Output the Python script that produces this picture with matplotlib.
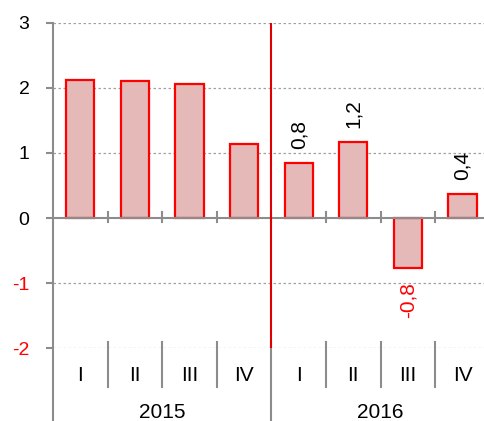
import matplotlib.pyplot as plt
import matplotlib.transforms as mtransforms

plt.rcParams['font.family'] = ['Liberation Sans', 'DejaVu Sans']

quarters = ['I', 'II', 'III', 'IV', 'I', 'II', 'III', 'IV']
years = ['2015', '2016']
values = [2.12, 2.10, 2.06, 1.14, 0.85, 1.17, -0.77, 0.37]
labels = {4: '0,8', 5: '1,2', 6: '-0,8', 7: '0,4'}

grey = '#8c8c8c'
W, H = 484, 421
fig = plt.figure(figsize=(W / 100, H / 100), dpi=100)
ax = fig.add_axes([53 / W, (H - 348.3) / H, 8 * 54.6 / W, 325.6 / H])

x = [i + 0.5 for i in range(len(values))]
ax.bar(x, values, width=0.52, color='#E5B9B8', edgecolor='red', linewidth=1.6, zorder=3)
ax.set_xlim(0, 8)
ax.set_ylim(-2, 3)

for s in ax.spines.values():
    s.set_visible(False)

# dotted grid and zero line
for v in [3, 2, 1, -1, -2]:
    ax.axhline(v, color='#a0a0a0', lw=0.9, ls=(0, (2, 2)), zorder=1)
ax.axhline(0, color=grey, lw=1.5, zorder=4)

# y axis
ax.plot([0, 0], [1, -73 / 325.6], transform=ax.transAxes, color=grey, lw=1.5, clip_on=False)
ax.set_yticks([3, 2, 1, 0, -1, -2])
ax.set_yticklabels(['3', '2', '1', '0', '-1', '-2'], fontsize=14)
ax.tick_params(axis='y', length=5, width=1.5, color=grey, pad=12)
for t in ax.get_yticklabels():
    if t.get_text().startswith('-'):
        t.set_color('red')
ax.set_xticks([])

# small ticks on zero line
for b in range(1, 8):
    ax.plot([b, b], [-0.06, 0.1], color=grey, lw=1.5, zorder=4)

# red divider between years
ax.plot([4, 4], [-2, 3], color='#e00000', lw=1.5, zorder=5)

# category area below the plot
trans = mtransforms.blended_transform_factory(ax.transData, ax.transAxes)
px = 1 / 325.6
for b in range(1, 8):
    bottom = -73 * px if b == 4 else -39 * px
    ax.plot([b, b], [6 * px, bottom], transform=trans, color=grey, lw=1.5, clip_on=False)
for xi, q in zip(x, quarters):
    ax.text(xi, -27 * px, q, transform=trans, ha='center', va='center', fontsize=15, clip_on=False)
for i, yr in enumerate(years):
    ax.text(2 + 4 * i, -64 * px, yr, transform=trans, ha='center', va='center', fontsize=15, clip_on=False)

# value labels
for i, txt in labels.items():
    v = values[i]
    if v >= 0:
        ax.annotate(txt, (x[i], v), xytext=(0, 10), textcoords='offset points',
                    rotation=90, ha='center', va='bottom', fontsize=15)
    else:
        ax.annotate(txt, (x[i], v), xytext=(0, -10), textcoords='offset points',
                    rotation=90, ha='center', va='top', fontsize=15, color='red')

fig.savefig('out.png', dpi=100)
